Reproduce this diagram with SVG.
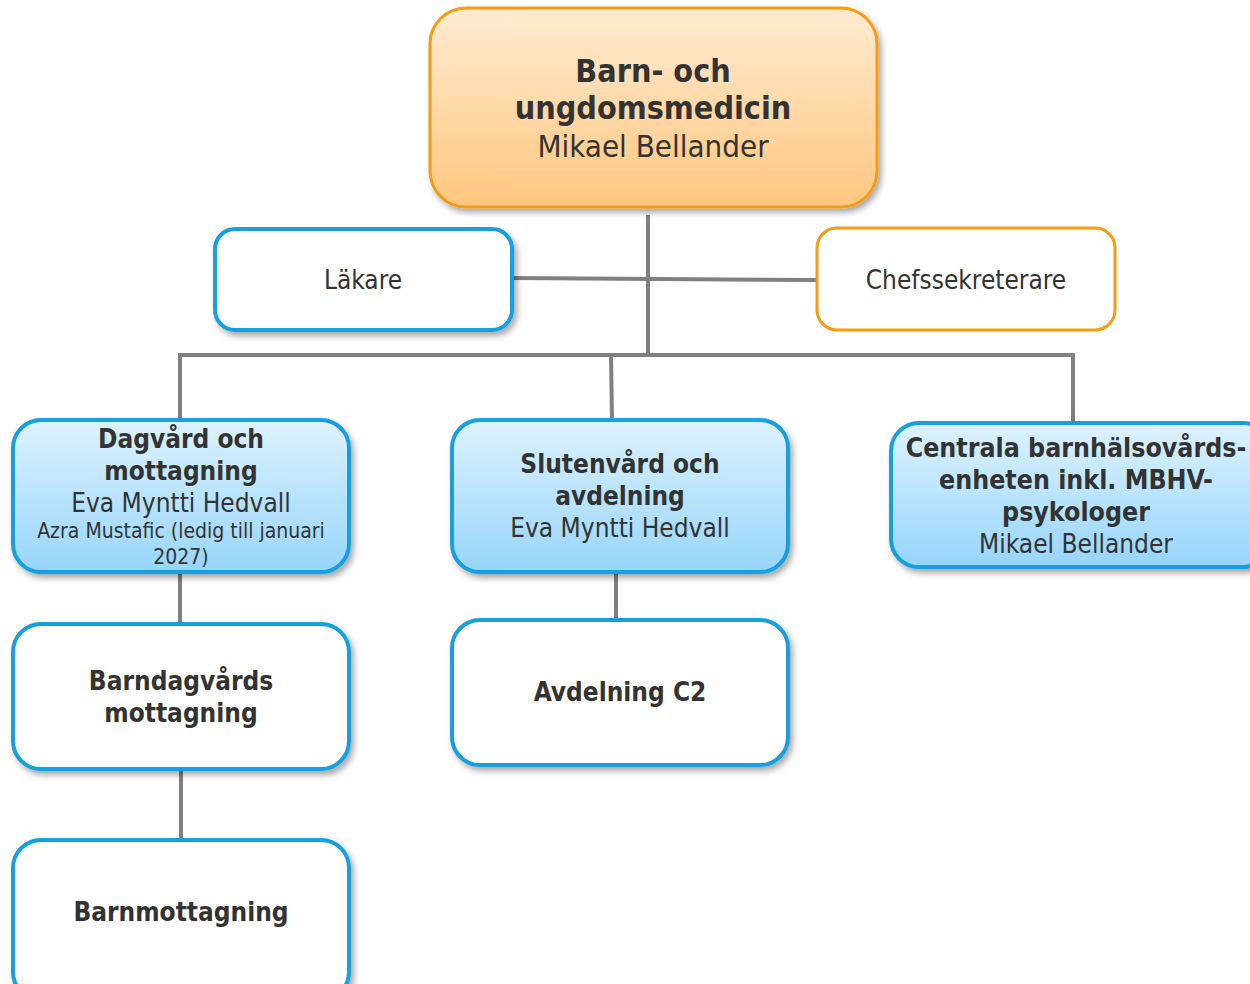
<svg xmlns="http://www.w3.org/2000/svg" width="1250" height="984" viewBox="0 0 1250 984">
<defs>
<linearGradient id="gOrange" x1="0" y1="0" x2="0" y2="1"><stop offset="0" stop-color="#FFEBD2"/><stop offset="1" stop-color="#FFC67E"/></linearGradient>
<linearGradient id="gBlue" x1="0" y1="0" x2="0" y2="1"><stop offset="0" stop-color="#DDF2FF"/><stop offset="1" stop-color="#97D5FB"/></linearGradient>
<filter id="sh" x="-10%" y="-10%" width="125%" height="130%"><feDropShadow dx="3" dy="4" stdDeviation="3" flood-color="#000" flood-opacity="0.35"/></filter>
<style>
.o{stroke:#F59C12;stroke-width:3}
.b{stroke:#14A0E0;stroke-width:4}
.w{fill:#fff}
.t{font-family:"DejaVu Sans Condensed","DejaVu Sans",sans-serif;fill:#333;text-anchor:middle}
.bd{font-weight:bold}
.c{stroke:#808080;stroke-width:4;fill:none}
</style>
</defs>
<g id="connectors">
<line class="c" x1="648" y1="215" x2="648" y2="355"/>
<line class="c" x1="512" y1="278" x2="817" y2="280"/>
<line class="c" x1="178" y1="355" x2="1075" y2="355"/>
<line class="c" x1="180" y1="355" x2="180" y2="420"/>
<line class="c" x1="611" y1="355" x2="612" y2="420"/>
<line class="c" x1="1073" y1="355" x2="1073" y2="423"/>
<line class="c" x1="180" y1="572" x2="180" y2="624"/>
<line class="c" x1="181" y1="769" x2="181" y2="840"/>
<line class="c" x1="616" y1="572" x2="616" y2="620"/>
</g>
<g id="top">
<rect x="430" y="8" width="447" height="199" rx="36" fill="url(#gOrange)" class="o" filter="url(#sh)"/>
<text class="t bd" x="653" y="82" font-size="32">Barn- och</text>
<text class="t bd" x="653" y="119" font-size="32">ungdomsmedicin</text>
<text class="t" x="653" y="157" font-size="31">Mikael Bellander</text>
</g>
<g id="lakare">
<rect x="215" y="229" width="297" height="101" rx="20" class="b w" filter="url(#sh)"/>
<text class="t" x="363" y="289" font-size="26">Läkare</text>
</g>
<g id="chef">
<rect x="817" y="228" width="298" height="102" rx="20" class="o w"/>
<text class="t" x="966" y="289" font-size="26">Chefssekreterare</text>
</g>
<g id="dagvard">
<rect x="13" y="420" width="336" height="152" rx="28" fill="url(#gBlue)" class="b" filter="url(#sh)"/>
<text class="t bd" x="181" y="448" font-size="26">Dagvård och</text>
<text class="t bd" x="181" y="480" font-size="26">mottagning</text>
<text class="t" x="181" y="512" font-size="26">Eva Myntti Hedvall</text>
<text class="t" x="181" y="538" font-size="21">Azra Mustafic (ledig till januari</text>
<text class="t" x="181" y="564" font-size="21">2027)</text>
</g>
<g id="slutenvard">
<rect x="452" y="420" width="336" height="152" rx="28" fill="url(#gBlue)" class="b" filter="url(#sh)"/>
<text class="t bd" x="620" y="473" font-size="26">Slutenvård och</text>
<text class="t bd" x="620" y="505" font-size="26">avdelning</text>
<text class="t" x="620" y="537" font-size="26">Eva Myntti Hedvall</text>
</g>
<g id="centrala">
<rect x="891" y="423" width="380" height="144" rx="28" fill="url(#gBlue)" class="b" filter="url(#sh)"/>
<text class="t bd" x="1076" y="457" font-size="26.5">Centrala barnhälsovårds-</text>
<text class="t bd" x="1076" y="489" font-size="26.5">enheten inkl. MBHV-</text>
<text class="t bd" x="1076" y="521" font-size="26.5">psykologer</text>
<text class="t" x="1076" y="553" font-size="26">Mikael Bellander</text>
</g>
<g id="barndagvard">
<rect x="13" y="624" width="336" height="145" rx="28" class="b w" filter="url(#sh)"/>
<text class="t bd" x="181" y="690" font-size="26">Barndagvårds</text>
<text class="t bd" x="181" y="722" font-size="26">mottagning</text>
</g>
<g id="avdc2">
<rect x="452" y="620" width="336" height="145" rx="28" class="b w" filter="url(#sh)"/>
<text class="t bd" x="620" y="701" font-size="26">Avdelning C2</text>
</g>
<g id="barnmott">
<rect x="13" y="840" width="336" height="160" rx="28" class="b w" filter="url(#sh)"/>
<text class="t bd" x="181" y="921" font-size="26">Barnmottagning</text>
</g>
</svg>
